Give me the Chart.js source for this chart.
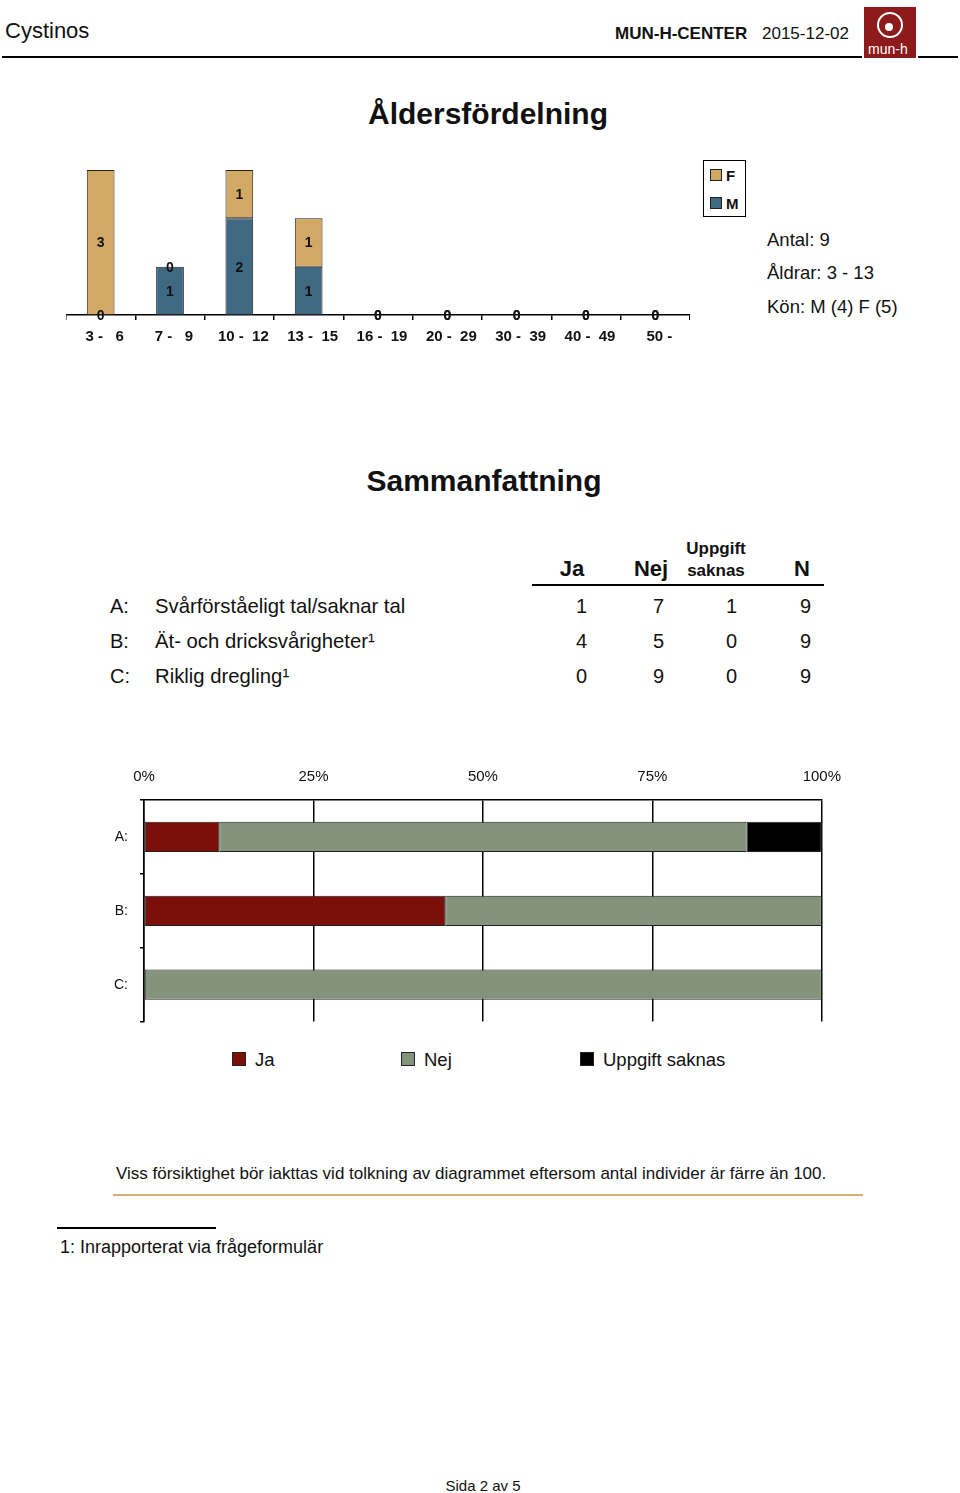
<!DOCTYPE html>
<html>
<head>
<meta charset="utf-8">
<script src="https://cdn.jsdelivr.net/npm/chart.js@4/dist/chart.umd.min.js"></script>
<style>
  body { margin: 0; background: #fff; font-family: "Liberation Sans", Arial, sans-serif; color: #111; }
  #page { position: relative; width: 960px; height: 1493px; overflow: hidden; }
  .t { position: absolute; line-height: 1; white-space: nowrap; }
  .b { font-weight: bold; }
  .rule { position: absolute; background: #000; }
  .sq { position: absolute; box-sizing: border-box; border: 1px solid #222; }
</style>
</head>
<body>
<div id="page">
  <!-- header -->
  <div class="t" style="left:5px;top:20px;font-size:22px;">Cystinos</div>
  <div class="t b" style="left:615px;top:25px;font-size:17px;">MUN-H-CENTER</div>
  <div class="t" style="left:762px;top:25px;font-size:17px;">2015-12-02</div>
  <div style="position:absolute;left:864px;top:7px;width:52px;height:51px;background:#8e1b1b;">
    <div style="position:absolute;left:13px;top:5px;width:22px;height:22px;border:2px solid #fff;border-radius:50%;"></div>
    <div style="position:absolute;left:21px;top:16px;width:8px;height:8px;background:#fff;border-radius:50%;"></div>
    <div class="t" style="left:4px;top:35px;font-size:14px;color:#fff;">mun-h</div>
  </div>
  <div class="rule" style="left:2px;top:56px;width:860px;height:2px;"></div>
  <div class="rule" style="left:918px;top:56px;width:40px;height:2px;"></div>

  <div class="t b" style="left:0;width:976px;text-align:center;top:99px;font-size:30px;">Åldersfördelning</div>

  <div style="position:absolute;left:66px;top:150px;width:624px;height:200px;">
    <canvas id="ageChart"></canvas>
  </div>

  <div style="position:absolute;left:703px;top:160px;width:43px;height:57px;border:1px solid #000;box-sizing:border-box;"></div>
  <div class="sq" style="left:710px;top:169px;width:12px;height:12px;background:#d1a965;"></div>
  <div class="t b" style="left:726px;top:168px;font-size:15px;">F</div>
  <div class="sq" style="left:710px;top:197px;width:12px;height:12px;background:#3f6883;"></div>
  <div class="t b" style="left:726px;top:196px;font-size:15px;">M</div>

  <div class="t" style="left:767px;top:231px;font-size:18.5px;">Antal: 9</div>
  <div class="t" style="left:767px;top:264px;font-size:18.5px;">Åldrar: 3 - 13</div>
  <div class="t" style="left:767px;top:298px;font-size:18.5px;">Kön: M (4) F (5)</div>

  <div class="t b" style="left:0;width:968px;text-align:center;top:466px;font-size:30px;">Sammanfattning</div>

  <div id="table"></div>
  <div class="rule" style="left:532px;top:584px;width:292px;height:2px;"></div>

  <div style="position:absolute;left:100px;top:760px;width:755px;height:282px;">
    <canvas id="sumChart"></canvas>
  </div>

  <div id="legend"></div>

  <div class="t" style="left:116px;top:1165px;font-size:17px;">Viss försiktighet bör iakttas vid tolkning av diagrammet eftersom antal individer är färre än 100.</div>
  <div class="rule" style="left:113px;top:1194px;width:750px;height:2px;background:#d4b07a;"></div>
  <div class="rule" style="left:57px;top:1227px;width:159px;height:2px;"></div>
  <div class="t" style="left:60px;top:1238px;font-size:18px;">1: Inrapporterat via frågeformulär</div>
  <div class="t" style="left:0;width:966px;text-align:center;top:1478px;font-size:15px;">Sida 2 av 5</div>
</div>

<script>
    "use strict";

    // Age distribution
    const ageGroups = ["3 -   6", "7 -   9", "10 -  12", "13 -  15", "16 -  19", "20 -  29", "30 -  39", "40 -  49", "50 -"];
    const ageM = [0, 1, 2, 1, 0, 0, 0, 0, 0];
    const ageF = [3, 0, 1, 1, 0, 0, 0, 0, 0];

    // Summary
    const questionKeys = ["A:", "B:", "C:"];
    const questionTexts = ["Svårförståeligt tal/saknar tal", "Ät- och dricksvårigheter¹", "Riklig dregling¹"];
    const answerLabels = ["Ja", "Nej", "Uppgift saknas"];
    const ja = [1, 4, 0];
    const nej = [7, 5, 9];
    const saknas = [1, 0, 0];
    const total = [9, 9, 9];
    const percentTicks = [0, 25, 50, 75, 100];

    const FONT = "'Liberation Sans', Arial, sans-serif";
    Chart.defaults.font.family = FONT;
    Chart.defaults.color = "#111";

    // value labels inside each stacked segment, zeros on the segment base
    const segmentLabels = {
        id: "segmentLabels",
        afterDatasetsDraw(chart) {
            let ctx = chart.ctx;
            ctx.save();
            ctx.font = "bold 14px " + FONT;
            ctx.fillStyle = "#111";
            ctx.textAlign = "center";
            ctx.textBaseline = "middle";
            chart.data.datasets.forEach((ds, i) => {
                chart.getDatasetMeta(i).data.forEach((bar, j) => {
                    let v = ds.data[j];
                    let y = v === 0 ? bar.y : (bar.y + bar.base) / 2;
                    ctx.fillText(String(v), bar.x, y + 1);
                });
            });
            ctx.restore();
        },
    };

    new Chart(document.getElementById("ageChart").getContext("2d"), {
        type: "bar",
        data: {
            labels: ageGroups,
            datasets: [
                { label: "M", data: ageM, backgroundColor: "#3f6883", borderColor: "#222", borderWidth: 1, borderSkipped: false },
                { label: "F", data: ageF, backgroundColor: "#d1a965", borderColor: "#222", borderWidth: 1, borderSkipped: false },
            ],
        },
        options: {
            responsive: true,
            maintainAspectRatio: false,
            animation: false,
            layout: { padding: { top: 20, left: 0, right: 0 } },
            datasets: { bar: { barPercentage: 0.4, categoryPercentage: 1 } },
            plugins: { legend: { display: false }, tooltip: { enabled: false } },
            scales: {
                x: {
                    stacked: true,
                    grid: { drawOnChartArea: false, drawTicks: true, tickLength: 5, color: "#000", lineWidth: 1.5, offset: true },
                    border: { color: "#000", width: 1.5 },
                    ticks: { font: { size: 15, weight: "bold" }, color: "#111", padding: 8, labelOffset: 4, maxRotation: 0, autoSkip: false },
                    afterFit: (s) => { s.height = 35; },
                },
                y: { stacked: true, display: false, min: 0, max: 3 },
            },
        },
        plugins: [segmentLabels],
    });

    // summary table
    const table = document.getElementById("table");
    function cell(html, left, top, size, cls, align, width) {
        let d = document.createElement("div");
        d.className = "t " + (cls || "");
        d.style.left = left + "px";
        d.style.top = top + "px";
        d.style.fontSize = size + "px";
        if (width) { d.style.width = width + "px"; d.style.textAlign = align; }
        d.innerHTML = html;
        table.appendChild(d);
    }
    cell("Ja", 552, 558, 22, "b", "center", 40);
    cell("Nej", 626, 558, 22, "b", "center", 50);
    cell("Uppgift", 676, 540, 17, "b", "center", 80);
    cell("saknas", 676, 562, 17, "b", "center", 80);
    cell("N", 782, 558, 22, "b", "center", 40);
    const colRights = [587, 664, 737, 811];
    questionKeys.forEach((k, i) => {
        let top = 596 + i * 35;
        cell(k, 110, top, 20);
        cell(questionTexts[i], 155, top, 20.3);
        [ja[i], nej[i], saknas[i], total[i]].forEach((v, c) => {
            cell(String(v), colRights[c] - 40, top, 20, "", "right", 40);
        });
    });

    // 100% stacked horizontal bars
    const pct = (arr) => arr.map((v, i) => (v / total[i]) * 100);
    const answerColors = ["#7b0f0a", "#84937c", "#000000"];

    new Chart(document.getElementById("sumChart").getContext("2d"), {
        type: "bar",
        data: {
            labels: questionKeys,
            datasets: [
                { label: answerLabels[0], data: pct(ja), backgroundColor: answerColors[0] },
                { label: answerLabels[1], data: pct(nej), backgroundColor: answerColors[1] },
                { label: answerLabels[2], data: pct(saknas), backgroundColor: answerColors[2] },
            ],
        },
        options: {
            indexAxis: "y",
            responsive: true,
            maintainAspectRatio: false,
            animation: false,
            layout: { padding: { right: 21, bottom: 2 } },
            datasets: { bar: { barPercentage: 0.41, categoryPercentage: 1, borderColor: "#222", borderWidth: 1, borderSkipped: false } },
            plugins: { legend: { display: false }, tooltip: { enabled: false } },
            scales: {
                x: {
                    position: "top",
                    stacked: true,
                    min: 0,
                    max: 100,
                    afterBuildTicks: (s) => { s.ticks = percentTicks.map((v) => ({ value: v })); },
                    grid: { color: "#000", lineWidth: 1.5, drawTicks: false },
                    border: { color: "#000", width: 1.5 },
                    ticks: { font: { size: 15 }, color: "#111", padding: 14, callback: (v) => v + "%" },
                    afterFit: (s) => { s.height = 40; },
                },
                y: {
                    stacked: true,
                    grid: { drawOnChartArea: false, drawTicks: true, tickLength: 4, color: "#000", lineWidth: 1.5, offset: true },
                    border: { color: "#000", width: 1.5 },
                    ticks: { font: { size: 14 }, color: "#111", padding: 12 },
                    afterFit: (s) => { s.width = 44; },
                },
            },
        },
    });

    // legend below the bars
    const legend = document.getElementById("legend");
    const legendX = [232, 401, 580];
    answerLabels.forEach((lab, i) => {
        let sq = document.createElement("div");
        sq.className = "sq";
        sq.style.cssText = "left:" + legendX[i] + "px;top:1052px;width:14px;height:14px;background:" + answerColors[i] + ";";
        legend.appendChild(sq);
        let t = document.createElement("div");
        t.className = "t";
        t.style.cssText = "left:" + (legendX[i] + 23) + "px;top:1051px;font-size:18.5px;";
        t.textContent = lab;
        legend.appendChild(t);
    });
</script>
</body>
</html>
